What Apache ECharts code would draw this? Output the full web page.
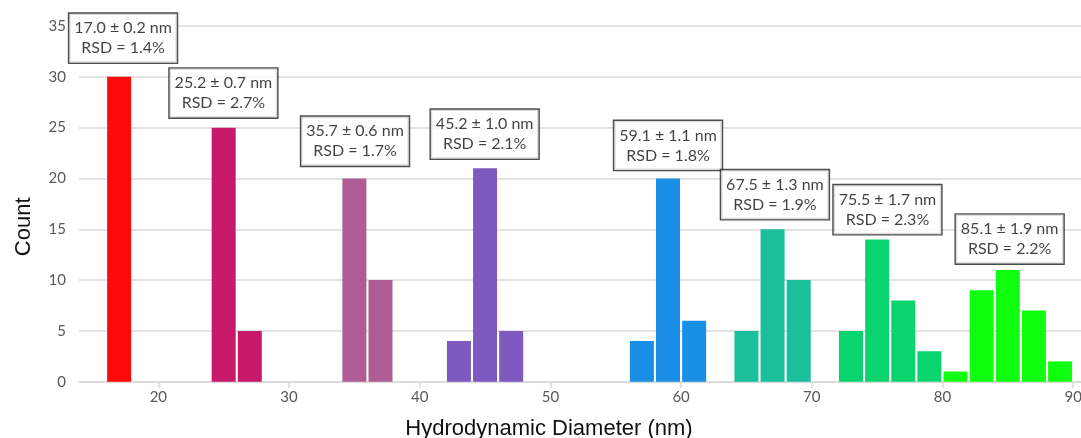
<!DOCTYPE html>
<html>
<head>
<meta charset="utf-8">
<script src="https://cdn.jsdelivr.net/npm/echarts@6/dist/echarts.min.js"></script>
<style>html,body{margin:0;padding:0;background:#fff}#c{width:1081px;height:438px}</style>
</head>
<body>
<div id="c"></div>
<script>
// bin centers (nm) and counts, one group per sample
const g1x = [17], g1y = [30];
const g2x = [25, 27], g2y = [25, 5];
const g3x = [35, 37], g3y = [20, 10];
const g4x = [43, 45, 47], g4y = [4, 21, 5];
const g5x = [57, 59, 61], g5y = [4, 20, 6];
const g6x = [65, 67, 69], g6y = [5, 15, 10];
const g7x = [73, 75, 77, 79], g7y = [5, 14, 8, 3];
const g8x = [81, 83, 85, 87, 89], g8y = [1, 9, 11, 7, 2];
const groupColors = ['#FF0A0A', '#C8186A', '#B05C94', '#7E5AC0', '#1A8FE6', '#1ABF9C', '#0AD46E', '#10FF10'];

// annotation labels and their data-coordinate anchors
const annoMean = ['17.0 ± 0.2 nm', '25.2 ± 0.7 nm', '35.7 ± 0.6 nm', '45.2 ± 1.0 nm', '59.1 ± 1.1 nm', '67.5 ± 1.3 nm', '75.5 ± 1.7 nm', '85.1 ± 1.9 nm'];
const annoRsd = ['RSD = 1.4%', 'RSD = 2.7%', 'RSD = 1.7%', 'RSD = 2.1%', 'RSD = 1.8%', 'RSD = 1.9%', 'RSD = 2.3%', 'RSD = 2.2%'];
const annoX = [17.3, 24.98, 35.05, 44.97, 59.0, 67.18, 75.79, 85.14];
const annoY = [33.8, 28.4, 23.66, 24.36, 23.25, 18.4, 16.93, 14.03];

const xTicks = [20, 30, 40, 50, 60, 70, 80, 90];
const yTicks = [0, 5, 10, 15, 20, 25, 30, 35];

const groupsX = [g1x, g2x, g3x, g4x, g5x, g6x, g7x, g8x];
const groupsY = [g1y, g2y, g3y, g4y, g5y, g6y, g7y, g8y];

const series = groupsX.map((gx, i) => ({
  type: 'bar',
  data: gx.map((x, j) => [x, groupsY[i][j]]),
  barWidth: 24,
  barGap: '-100%',
  itemStyle: { color: groupColors[i] },
  silent: true
}));

series.push({
  type: 'scatter',
  symbolSize: 0,
  silent: true,
  z: 10,
  data: annoX.map((x, i) => ({ value: [x, annoY[i]], name: i })),
  label: {
    show: true,
    position: 'inside',
    formatter: p => annoMean[p.dataIndex] + '\n' + annoRsd[p.dataIndex],
    fontFamily: 'Lato',
    fontSize: 16,
    lineHeight: 20,
    color: '#111',
    align: 'center',
    backgroundColor: '#fff',
    borderColor: '#222',
    borderWidth: 1.4,
    padding: [5, 5, 4, 5]
  }
});

const chart = echarts.init(document.getElementById('c'), null, { renderer: 'canvas' });
chart.setOption({
  animation: false,
  backgroundColor: '#fff',
  grid: { left: 79, right: 0, top: 26, bottom: 56.3, containLabel: false, outerBoundsMode: 'none' },
  xAxis: {
    type: 'value',
    min: 13.93,
    max: 90.6,
    interval: 2,
    name: 'Hydrodynamic Diameter (nm)',
    nameLocation: 'middle',
    nameGap: 36,
    nameTextStyle: { fontFamily: 'Liberation Sans', fontSize: 22, color: '#111', padding: [0, 62, 0, 0] },
    axisLine: { show: true, lineStyle: { color: '#d9d9d9', width: 1.5 } },
    axisTick: { show: true, customValues: xTicks, length: 6, lineStyle: { color: '#d9d9d9', width: 1.5 } },
    axisLabel: { customValues: xTicks, fontFamily: 'Lato', fontSize: 15, color: '#595959', margin: 8 },
    splitLine: { show: false }
  },
  yAxis: {
    type: 'value',
    min: 0,
    max: 35,
    interval: 5,
    name: 'Count',
    nameLocation: 'middle',
    nameGap: 44,
    nameTextStyle: { fontFamily: 'Liberation Sans', fontSize: 22, color: '#111', padding: [0, 46, 0, 0] },
    axisLine: { show: false },
    axisTick: { show: false },
    axisLabel: { customValues: yTicks, fontFamily: 'Lato', fontSize: 15, color: '#595959', margin: 13 },
    splitLine: { show: true, lineStyle: { color: '#d9d9d9', width: 1.5 } }
  },
  series: series
});
</script>
</body>
</html>
